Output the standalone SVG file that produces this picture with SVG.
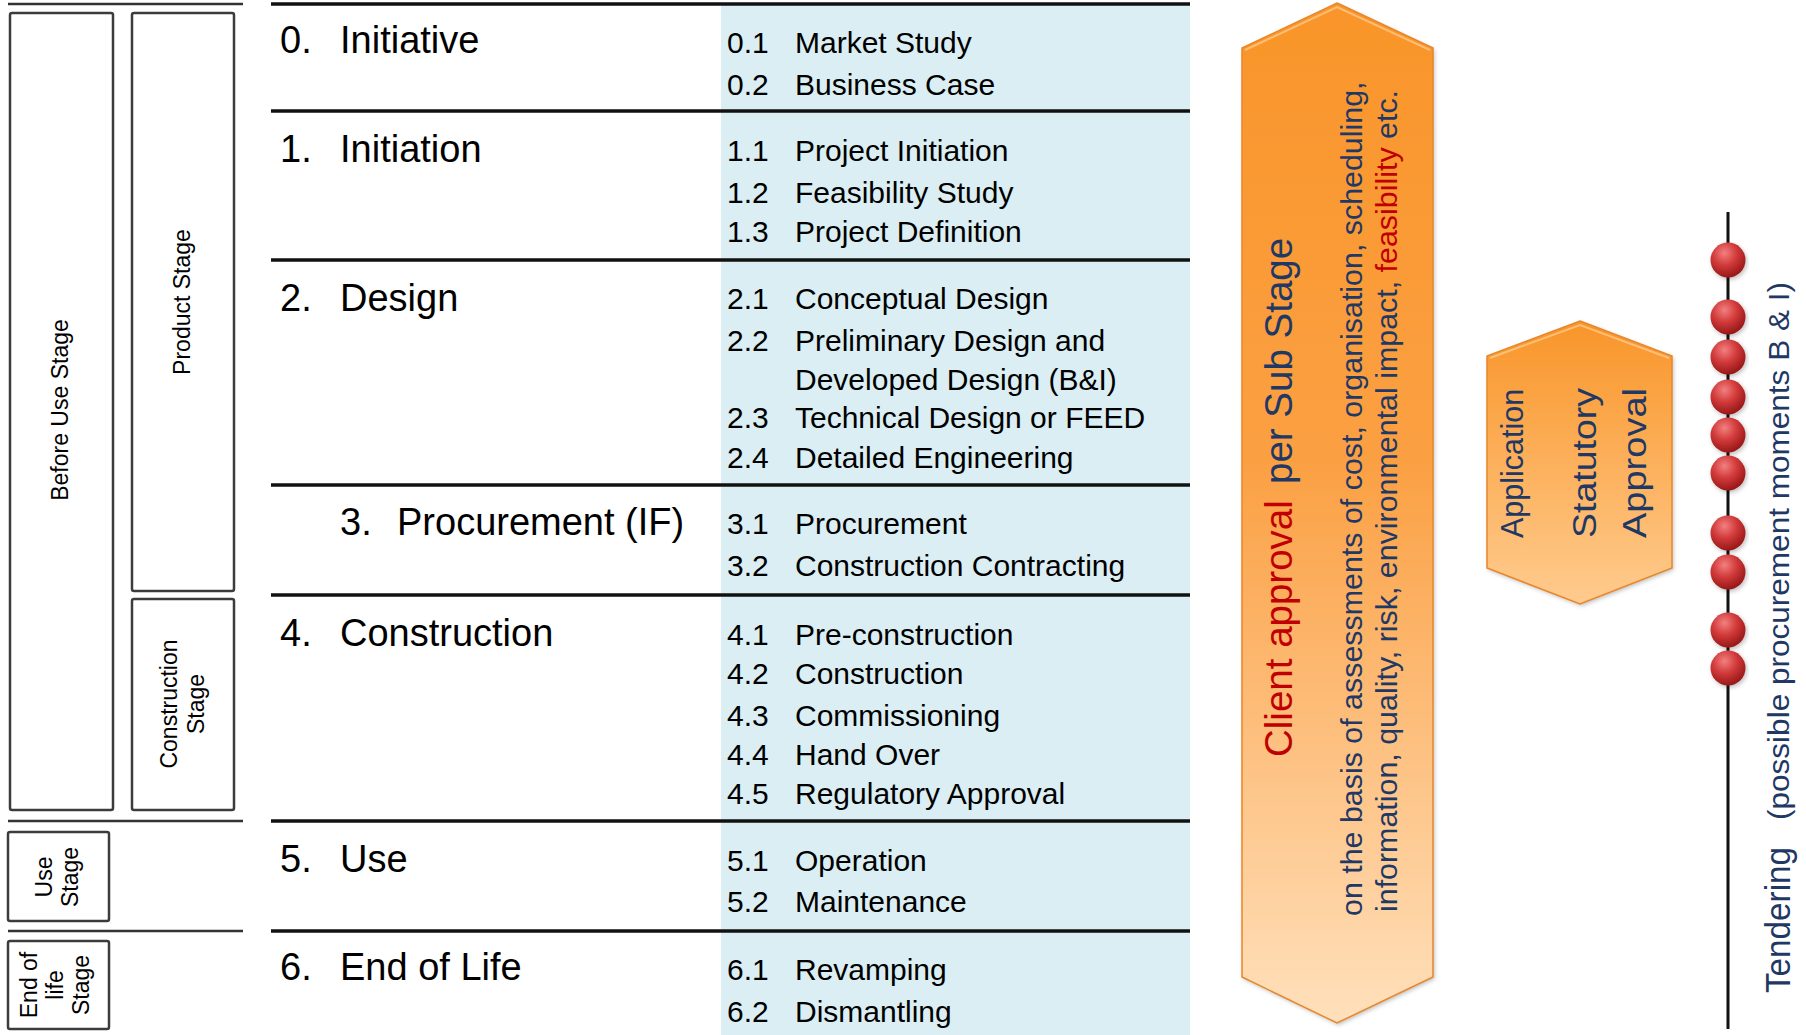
<svg xmlns="http://www.w3.org/2000/svg" width="1806" height="1035" viewBox="0 0 1806 1035">
  <defs>
    <style>
      text { font-family: "Liberation Sans", Arial, sans-serif; }
      .tbl-line { stroke: #111; stroke-width: 3.5; }
      .side-line { stroke: #333; stroke-width: 2.5; }
      .stage-box { fill: #fff; stroke: #3c3c3c; stroke-width: 2.5; }
      .head { font-size: 38px; fill: #000; }
      .item { font-size: 30px; fill: #000; }
      .side { font-size: 23px; fill: #000; text-anchor: middle; }
      .navy { fill: #1F3864; }
      .red { fill: #C00000; }
      .arrow-edge { fill: none; stroke: #E8862A; stroke-width: 1.5; }
      .bevel { fill: none; stroke: #FFD9A6; stroke-width: 2; stroke-opacity: 0.6; }
    </style>
    <linearGradient id="bigFill" x1="0" y1="0" x2="0" y2="1">
      <stop offset="0" stop-color="#F99529"/>
      <stop offset="0.45" stop-color="#FBA043"/>
      <stop offset="1" stop-color="#FFE0BC"/>
    </linearGradient>
    <linearGradient id="hexFill" x1="0" y1="0" x2="0" y2="1">
      <stop offset="0" stop-color="#F99529"/>
      <stop offset="1" stop-color="#FFCB8E"/>
    </linearGradient>
    <radialGradient id="ballFill" cx="0.4" cy="0.3" r="0.7">
      <stop offset="0" stop-color="#F28080"/>
      <stop offset="0.5" stop-color="#D23A3A"/>
      <stop offset="1" stop-color="#981818"/>
    </radialGradient>
    <filter id="soft" x="-10%" y="-10%" width="120%" height="120%">
      <feDropShadow dx="1.5" dy="2" stdDeviation="2" flood-color="#000" flood-opacity="0.25"/>
    </filter>
  </defs>

  <rect width="1806" height="1035" fill="#fff"/>

  <!-- light blue band behind the sub-stage column -->
  <rect x="721" y="3" width="469" height="1032" fill="#DAEEF3"/>

  <!-- separators -->
  <g id="connectors">
    <line class="side-line" x1="8" y1="4" x2="243" y2="4"/>
    <line class="side-line" x1="8" y1="821" x2="243" y2="821"/>
    <line class="side-line" x1="8" y1="931" x2="243" y2="931"/>
    <line class="tbl-line" x1="271" y1="4" x2="1190" y2="4"/>
    <line class="tbl-line" x1="271" y1="111" x2="1190" y2="111"/>
    <line class="tbl-line" x1="271" y1="260" x2="1190" y2="260"/>
    <line class="tbl-line" x1="271" y1="485" x2="1190" y2="485"/>
    <line class="tbl-line" x1="271" y1="595" x2="1190" y2="595"/>
    <line class="tbl-line" x1="271" y1="821" x2="1190" y2="821"/>
    <line class="tbl-line" x1="271" y1="931" x2="1190" y2="931"/>
    <line x1="1728" y1="212" x2="1728" y2="1029" stroke="#111" stroke-width="3"/>
  </g>

  <!-- life-cycle stage boxes -->
  <g id="before-use-stage">
    <rect class="stage-box" x="10" y="13" width="103" height="797" rx="2"/>
    <text class="side" transform="translate(68,410) rotate(-90)">Before Use Stage</text>
  </g>
  <g id="product-stage">
    <rect class="stage-box" x="132" y="13" width="102" height="578" rx="2"/>
    <text class="side" transform="translate(190,302) rotate(-90)">Product Stage</text>
  </g>
  <g id="construction-stage">
    <rect class="stage-box" x="132" y="599" width="102" height="211" rx="2"/>
    <text class="side" transform="translate(177,704) rotate(-90)">Construction</text>
    <text class="side" transform="translate(204,704) rotate(-90)">Stage</text>
  </g>
  <g id="use-stage">
    <rect class="stage-box" x="8" y="832" width="101" height="89" rx="2"/>
    <text class="side" transform="translate(52,877) rotate(-90)">Use</text>
    <text class="side" transform="translate(78,877) rotate(-90)">Stage</text>
  </g>
  <g id="end-of-life-stage">
    <rect class="stage-box" x="8" y="941" width="101" height="88" rx="2"/>
    <text class="side" transform="translate(37,985) rotate(-90)">End of</text>
    <text class="side" transform="translate(63,985) rotate(-90)">life</text>
    <text class="side" transform="translate(89,985) rotate(-90)">Stage</text>
  </g>

  <!-- phases and sub-stages -->
  <g id="phase-0">
    <text class="head" x="280" y="53">0.</text>
    <text class="head" x="340" y="53">Initiative</text>
    <text class="item" x="727" y="53">0.1</text><text class="item" x="795" y="53">Market Study</text>
    <text class="item" x="727" y="95">0.2</text><text class="item" x="795" y="95">Business Case</text>
  </g>
  <g id="phase-1">
    <text class="head" x="280" y="162">1.</text>
    <text class="head" x="340" y="162">Initiation</text>
    <text class="item" x="727" y="161">1.1</text><text class="item" x="795" y="161">Project Initiation</text>
    <text class="item" x="727" y="203">1.2</text><text class="item" x="795" y="203">Feasibility Study</text>
    <text class="item" x="727" y="242">1.3</text><text class="item" x="795" y="242">Project Definition</text>
  </g>
  <g id="phase-2">
    <text class="head" x="280" y="311">2.</text>
    <text class="head" x="340" y="311">Design</text>
    <text class="item" x="727" y="309">2.1</text><text class="item" x="795" y="309">Conceptual Design</text>
    <text class="item" x="727" y="351">2.2</text><text class="item" x="795" y="351">Preliminary Design and</text>
    <text class="item" x="795" y="390">Developed Design (B&amp;I)</text>
    <text class="item" x="727" y="428">2.3</text><text class="item" x="795" y="428">Technical Design or FEED</text>
    <text class="item" x="727" y="468">2.4</text><text class="item" x="795" y="468">Detailed Engineering</text>
  </g>
  <g id="phase-3">
    <text class="head" x="340" y="535">3.</text>
    <text class="head" x="397" y="535">Procurement (IF)</text>
    <text class="item" x="727" y="534">3.1</text><text class="item" x="795" y="534">Procurement</text>
    <text class="item" x="727" y="576">3.2</text><text class="item" x="795" y="576">Construction Contracting</text>
  </g>
  <g id="phase-4">
    <text class="head" x="280" y="646">4.</text>
    <text class="head" x="340" y="646">Construction</text>
    <text class="item" x="727" y="645">4.1</text><text class="item" x="795" y="645">Pre-construction</text>
    <text class="item" x="727" y="684">4.2</text><text class="item" x="795" y="684">Construction</text>
    <text class="item" x="727" y="726">4.3</text><text class="item" x="795" y="726">Commissioning</text>
    <text class="item" x="727" y="765">4.4</text><text class="item" x="795" y="765">Hand Over</text>
    <text class="item" x="727" y="804">4.5</text><text class="item" x="795" y="804">Regulatory Approval</text>
  </g>
  <g id="phase-5">
    <text class="head" x="280" y="872">5.</text>
    <text class="head" x="340" y="872">Use</text>
    <text class="item" x="727" y="871">5.1</text><text class="item" x="795" y="871">Operation</text>
    <text class="item" x="727" y="912">5.2</text><text class="item" x="795" y="912">Maintenance</text>
  </g>
  <g id="phase-6">
    <text class="head" x="280" y="980">6.</text>
    <text class="head" x="340" y="980">End of Life</text>
    <text class="item" x="727" y="980">6.1</text><text class="item" x="795" y="980">Revamping</text>
    <text class="item" x="727" y="1022">6.2</text><text class="item" x="795" y="1022">Dismantling</text>
  </g>

  <!-- client approval arrow -->
  <g id="client-approval">
    <polygon points="1337,3 1433,48 1433,977 1337,1023 1242,977 1242,48" fill="url(#bigFill)" filter="url(#soft)"/>
    <polygon class="arrow-edge" points="1337,3 1433,48 1433,977 1337,1023 1242,977 1242,48"/>
    <polyline class="bevel" points="1245,50 1337,7 1430,50"/>
    <text transform="translate(1292,757) rotate(-90)" style="font-size:38.5px"><tspan class="red">Client approval</tspan></text>
    <text transform="translate(1292,484) rotate(-90)" style="font-size:38.5px"><tspan class="navy">per Sub Stage</tspan></text>
    <text class="navy" transform="translate(1362,916) rotate(-90)" style="font-size:30.4px">on the basis of assessments of cost, organisation, scheduling,</text>
    <text class="navy" transform="translate(1397,912) rotate(-90)" style="font-size:30.4px">information, quality, risk, environmental impact, <tspan class="red">feasibility</tspan> etc.</text>
  </g>

  <!-- statutory approval -->
  <g id="statutory-approval">
    <polygon points="1580,321 1672,356 1672,568 1580,604 1487,568 1487,356" fill="url(#hexFill)" filter="url(#soft)"/>
    <polygon class="arrow-edge" points="1580,321 1672,356 1672,568 1580,604 1487,568 1487,356"/>
    <polyline class="bevel" points="1490,358 1580,325 1669,358"/>
    <text class="navy" transform="translate(1523,538) rotate(-90)" style="font-size:30.5px">Application</text>
    <text class="navy" transform="translate(1596,538) rotate(-90)" style="font-size:33px" textLength="150" lengthAdjust="spacingAndGlyphs">Statutory</text>
    <text class="navy" transform="translate(1646,538) rotate(-90)" style="font-size:33px" textLength="150" lengthAdjust="spacingAndGlyphs">Approval</text>
  </g>

  <!-- tendering moments -->
  <g id="tendering">
    <g filter="url(#soft)" fill="url(#ballFill)">
      <circle cx="1728" cy="260" r="17.5"/>
      <circle cx="1728" cy="317" r="17.5"/>
      <circle cx="1728" cy="357" r="17.5"/>
      <circle cx="1728" cy="397" r="17.5"/>
      <circle cx="1728" cy="435" r="17.5"/>
      <circle cx="1728" cy="473" r="17.5"/>
      <circle cx="1728" cy="533" r="17.5"/>
      <circle cx="1728" cy="572" r="17.5"/>
      <circle cx="1728" cy="630" r="17.5"/>
      <circle cx="1728" cy="668" r="17.5"/>
    </g>
    <text class="navy" transform="translate(1790,993) rotate(-90)" style="font-size:35px" textLength="146" lengthAdjust="spacingAndGlyphs">Tendering</text>
    <text class="navy" transform="translate(1789,820) rotate(-90)" style="font-size:29px" textLength="538" lengthAdjust="spacingAndGlyphs">(possible procurement  moments B &amp; I)</text>
  </g>
</svg>
